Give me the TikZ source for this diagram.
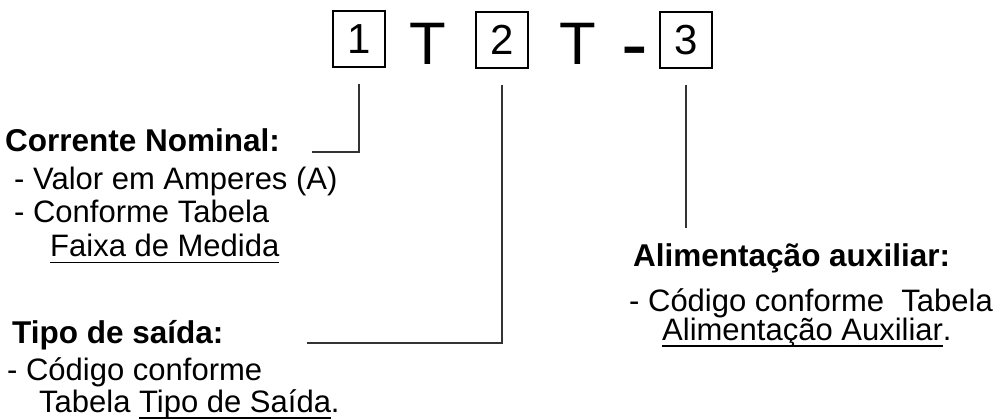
\documentclass[tikz,border=0pt]{standalone}
\usepackage{fontspec}
\setmainfont{Liberation Sans}
\usepackage{tikz}

% underline a word with a rule at a fixed depth
\newcommand\ulword[1]{\setbox0\hbox{#1}\rlap{\rule[-6.5pt]{\wd0}{1.5pt}}\box0}

\begin{document}
\begin{tikzpicture}[x=1pt, y=-1pt,
  digitbox/.style={draw, line width=1.6pt, minimum width=52pt, minimum height=56pt,
                   inner sep=0pt, font=\fontsize{42}{42}\selectfont},
  letter/.style={anchor=base, inner sep=0pt, font=\fontsize{60}{60}\selectfont},
  title/.style={anchor=base west, inner sep=0pt, font=\fontsize{31.5}{31.5}\selectfont\bfseries},
  item/.style={anchor=base west, inner sep=0pt, font=\fontsize{31}{31}\selectfont},
  lead/.style={draw=black!80, line width=1.4pt}]
  \useasboundingbox (0,0) rectangle (1008,419);
  % the code: 1 T 2 T - 3
  \node[digitbox] (b1) at (359,39)   {1};
  \node[letter]   (t1) at (427.5,65) {T};
  \node[digitbox] (b2) at (502,40)   {2};
  \node[letter]   (t2) at (577.5,65) {T};
  \node[letter, font=\fontsize{80}{80}\selectfont] (dash) at (635,72) {-};
  \node[digitbox] (b3) at (686,40)   {3};
  % rated current
  \node[title] (tcn) at (5,152)  {Corrente Nominal:};
  \node[item]  (cn1) at (14,190) {- Valor em Amperes (A)};
  \node[item]  (cn2) at (14,223) {- Conforme Tabela};
  \node[item]  (cn3) at (50,257) {\ulword{Faixa de Medida}};
  % output type
  \node[title] (tts) at (12,343) {Tipo de saída:};
  \node[item]  (ts1) at (7,380)  {- Código conforme};
  \node[item]  (ts2) at (39,412) {Tabela \ulword{Tipo de Saída}.};
  % auxiliary supply
  \node[title] (tal) at (633,267) {Alimentação auxiliar:};
  \node[item]  (al1) at (629,311) {- Código conforme\ \ Tabela};
  \node[item]  (al2) at (662,340) {\ulword{Alimentação Auxiliar}.};
  \coordinate (e3) at (686,228);
  % leader lines from the boxes
  \draw[lead] ([yshift=-16pt]b1.south) |- ([xshift=32pt]tcn.base east);
  \draw[lead] ([yshift=-16pt]b2.south) |- ([xshift=83pt]tts.base east);
  \draw[lead] ([yshift=-16pt]b3.south) -- (e3);
\end{tikzpicture}
\end{document}
